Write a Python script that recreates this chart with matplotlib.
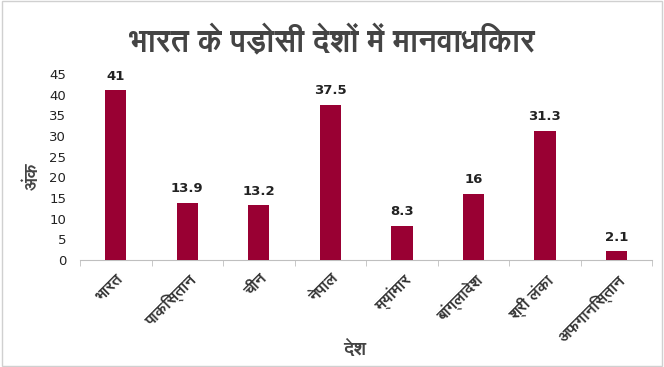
import matplotlib
matplotlib.use("Agg")
import matplotlib.pyplot as plt
from matplotlib import font_manager
from matplotlib.ft2font import FT2Font
import numpy as np

categories = ["भारत", "पाकिस्तान", "चीन", "नेपाल", "म्यांमार", "बांग्लादेश", "श्री लंका", "अफगानिस्तान"]
values = [41, 13.9, 13.2, 37.5, 8.3, 16, 31.3, 2.1]
value_labels = ["41", "13.9", "13.2", "37.5", "8.3", "16", "31.3", "2.1"]
yticks = [0, 5, 10, 15, 20, 25, 30, 35, 40, 45]
title = "भारत के पड़ोसी देशों में मानवाधिकार"
xlabel = "देश"
ylabel = "अंक"

# find fonts that cover Devanagari, preferring a bold face
deva_regular = None
deva_bold = None
for f in font_manager.fontManager.ttflist:
    try:
        ft = FT2Font(f.fname)
        cmap = ft.get_charmap()
        if 0x092D in cmap and 0x0930 in cmap:
            w = f.weight if isinstance(f.weight, int) else font_manager.weight_dict.get(f.weight, 400)
            if w >= 600 and deva_bold is None:
                deva_bold = f.fname
            if deva_regular is None:
                deva_regular = f.fname
    except Exception:
        pass

def fp(size, bold=False):
    path = deva_bold if (bold and deva_bold) else deva_regular
    if path:
        return font_manager.FontProperties(fname=path, size=size)
    return font_manager.FontProperties(family="DejaVu Sans", size=size,
                                       weight="bold" if bold else "normal")

fig = plt.figure(figsize=(6.64, 3.67), dpi=100)
ax = fig.add_axes([0.1205, 0.2916, 0.8615, 0.507])

x = np.arange(len(categories))
color = "#990033"
ax.bar(x, values, width=0.3, color=color, zorder=3)
for xi, v, lab in zip(x, values, value_labels):
    ax.text(xi, v + 1.8, lab, ha="center", va="bottom", fontsize=9.5,
            fontweight="bold", color="#222222", family=["DejaVu Sans"])

ax.set_xlim(-0.5, len(categories) - 0.5)
ax.set_ylim(0, 45)
ax.set_yticks(yticks)
ax.set_yticklabels([str(t) for t in yticks], fontsize=9.5, color="#222222")
ax.tick_params(axis="y", length=0, pad=10)

ax.set_xticks(x)
ax.set_xticklabels(categories, rotation=45, ha="right", rotation_mode="anchor",
                   fontproperties=fp(11.5, True), color="#333333")
ax.tick_params(axis="x", which="major", length=0, pad=8)
ax.set_xticks(np.arange(-0.5, len(categories)), minor=True)
ax.tick_params(axis="x", which="minor", length=4, color="#bfbfbf")

for s in ["top", "right", "left"]:
    ax.spines[s].set_visible(False)
ax.spines["bottom"].set_color("#bfbfbf")

fig.text(0.535, 0.048, xlabel, ha="center", va="center",
         fontproperties=fp(13.5, True), color="#444444")
fig.text(0.05, 0.52, ylabel, ha="center", va="center", rotation=90,
         fontproperties=fp(13, True), color="#444444")
fig.text(0.5, 0.885, title, ha="center", va="center",
         fontproperties=fp(22, True), color="#444444")

border = plt.Rectangle((0.003, 0.003), 0.994, 0.994, transform=fig.transFigure,
                       fill=False, edgecolor="#d0d0d0", linewidth=1)
fig.add_artist(border)

fig.savefig("out.png", dpi=100, facecolor="white")
